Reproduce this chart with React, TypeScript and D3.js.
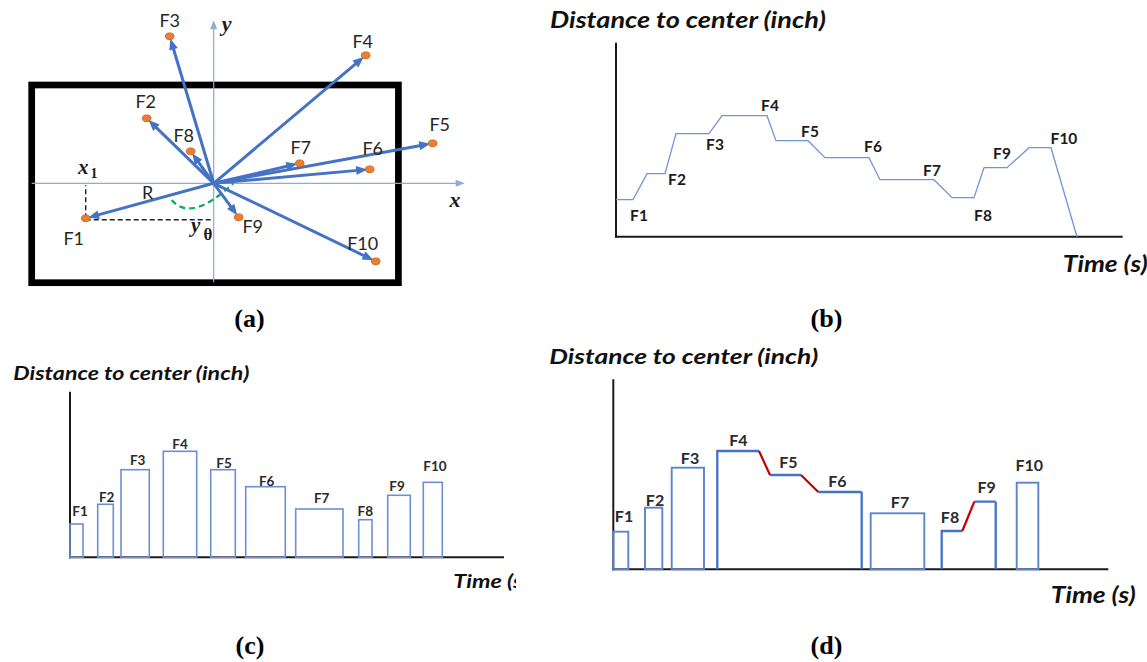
import React from 'react';
import * as d3 from 'd3';

const W = 1147;
const H = 662;

// ---------- Panel (a): feature vectors around the tool center ----------
const features = ['F1', 'F2', 'F3', 'F4', 'F5', 'F6', 'F7', 'F8', 'F9', 'F10'];
const vecX = [-12.8, -6.7, -4.4, 15.2, 21.9, 15.6, 8.6, -2.3, 2.5, 16.2];
const vecY = [-3.5, 6.5, 14.7, 12.8, 4.0, 1.4, 2.0, 3.2, -3.4, -7.8];
const vecLabelX = [-14.0, -6.8, -4.4, 14.9, 22.6, 15.9, 8.7, -3.0, 3.9, 14.9];
const vecLabelY = [-5.5, 8.2, 16.3, 14.2, 5.9, 3.5, 3.6, 4.8, -4.3, -6.0];
const frameX = [-18.2, 18.47];
const frameY = [-9.94, 9.83];
const axisXRange = [-18.2, 25.1];
const axisYRange = [-9.9, 16.3];

// ---------- Panel (b): distance trace over time ----------
const bStart = [0, 3.1, 6.0, 10.6, 16.0, 20.9, 26.4, 33.6, 36.8, 41.3];
const bEnd = [1.7, 4.9, 9.3, 15.1, 19.2, 25.3, 31.8, 35.8, 39.1, 43.5];
const bLevel = [3.7, 6.3, 10.3, 12.1, 9.6, 7.9, 5.7, 3.9, 6.9, 8.9];
const bFinalTime = 46.1;
const bLabelT = [2.3, 6.1, 9.9, 15.4, 19.4, 25.7, 31.6, 36.7, 38.6, 44.8];
const bLabelD = [2.2, 5.8, 9.3, 13.2, 10.6, 9.1, 6.7, 2.2, 8.4, 9.9];

// ---------- Panel (c): one pulse per feature ----------
const cStart = [0, 2.77, 5.1, 9.33, 14.07, 17.57, 22.57, 28.87, 31.77, 35.33];
const cEnd = [1.3, 4.33, 7.93, 12.67, 16.53, 21.53, 27.3, 30.2, 34.03, 37.23];
const cLevel = [3.33, 5.3, 8.76, 10.6, 8.76, 7.06, 4.83, 3.76, 6.2, 7.5];
const cLabelT = [1.0, 3.67, 6.77, 11.0, 15.4, 19.67, 25.17, 29.53, 32.7, 36.5];
const cLabelD = [4.63, 6.06, 9.73, 11.3, 9.4, 7.63, 5.96, 4.6, 7.13, 9.16];

// ---------- Panel (d): pulses with linked transitions ----------
const dStart = [0, 3.17, 5.84, 10.4, 15.67, 20.5, 25.74, 32.84, 36.1, 40.34];
const dEnd = [1.5, 4.9, 9.07, 14.57, 18.77, 24.84, 31.1, 34.9, 38.24, 42.5];
const dLevel = [3.76, 6.16, 10.16, 11.83, 9.43, 7.73, 5.6, 3.83, 6.76, 8.66];
const dLinked = [false, false, false, true, true, false, false, true, false, false];
const dLabelT = [1.07, 4.17, 7.67, 12.5, 17.5, 22.4, 28.67, 33.67, 37.34, 41.6];
const dLabelD = [5.36, 7.0, 11.2, 13.03, 10.76, 8.86, 6.83, 5.33, 8.26, 10.53];

const SANS = "Lato, 'Open Sans', sans-serif";
const SERIF = "'Liberation Serif', 'Times New Roman', serif";
const BLUE = '#4472C4';
const TEXT = '#1c1c1c';

function arrow(x0: number, y0: number, x1: number, y1: number, len: number, wid: number) {
  const dx = x1 - x0;
  const dy = y1 - y0;
  const L = Math.hypot(dx, dy);
  const ux = dx / L;
  const uy = dy / L;
  const bx = x1 - ux * len;
  const by = y1 - uy * len;
  const px = -uy;
  const py = ux;
  const head = `M${x1},${y1}L${bx + (px * wid) / 2},${by + (py * wid) / 2}L${bx - (px * wid) / 2},${by - (py * wid) / 2}Z`;
  return { sx: bx + ux * 1.5, sy: by + uy * 1.5, head };
}

function PanelA() {
  const xA = d3.scaleLinear().domain([-20, 20]).range([13.7, 413.7]);
  const yA = d3.scaleLinear().domain([-20, 20]).range([383.3, -16.7]);
  const ox = xA(0);
  const oy = yA(0);

  const xAx = arrow(xA(axisXRange[0]), oy, xA(axisXRange[1]), oy, 9, 7);
  const yAx = arrow(ox, yA(axisYRange[0]), ox, yA(axisYRange[1]), 9, 7);

  const arc = d3.path();
  arc.moveTo(xA(-4.2), yA(-1.67));
  arc.quadraticCurveTo(xA(-2.28), yA(-3.97), xA(1.96), yA(0));

  return (
    <g>
      <rect
        x={xA(frameX[0])}
        y={yA(frameY[1])}
        width={xA(frameX[1]) - xA(frameX[0])}
        height={yA(frameY[0]) - yA(frameY[1])}
        fill="none"
        stroke="#000"
        strokeWidth={6.7}
      />
      {/* coordinate axes */}
      <line x1={xA(axisXRange[0])} y1={oy} x2={xAx.sx} y2={oy} stroke="#8EA9DB" strokeWidth={1.2} />
      <path d={xAx.head} fill="#8EA9DB" />
      <line x1={ox} y1={yA(axisYRange[0])} x2={ox} y2={yAx.sy} stroke="#8EA9DB" strokeWidth={1.2} />
      <path d={yAx.head} fill="#8EA9DB" />
      <text x={226.7} y={23.3} dominantBaseline="central" textAnchor="middle" fontFamily={SERIF} fontStyle="italic" fontWeight="bold" fontSize={22} fill={TEXT}>y</text>
      <text x={455} y={199.3} dominantBaseline="central" textAnchor="middle" fontFamily={SERIF} fontStyle="italic" fontWeight="bold" fontSize={22} fill={TEXT}>x</text>

      {/* projections of F1 onto the axes */}
      <line x1={xA(vecX[0])} y1={yA(vecY[0])} x2={xA(vecX[0])} y2={yA(-0.2)} stroke="#222" strokeWidth={1.4} strokeDasharray="5,3" />
      <line x1={xA(vecX[0])} y1={yA(vecY[0]) + 1.5} x2={ox} y2={yA(vecY[0]) + 1.5} stroke="#222" strokeWidth={1.4} strokeDasharray="5,3" />
      <path d={arc.toString()} fill="none" stroke="#00B050" strokeWidth={2.2} strokeDasharray="6,4" />

      {/* feature vectors */}
      {features.map((f, i) => {
        const tx = xA(vecX[i]);
        const ty = yA(vecY[i]);
        const L = Math.hypot(tx - ox, ty - oy);
        const ex = tx - ((tx - ox) / L) * 2.5;
        const ey = ty - ((ty - oy) / L) * 2.5;
        const a = arrow(ox, oy, ex, ey, 11, 9);
        return (
          <g key={f}>
            <line x1={ox} y1={oy} x2={a.sx} y2={a.sy} stroke={BLUE} strokeWidth={3} strokeLinecap="round" />
            <path d={a.head} fill={BLUE} />
          </g>
        );
      })}
      {features.map((f, i) => (
        <ellipse key={f} cx={xA(vecX[i])} cy={yA(vecY[i])} rx={4.3} ry={3.4} fill="#ED7D31" stroke="#C55A11" strokeWidth={0.8} />
      ))}
      {features.map((f, i) => (
        <text key={f} x={xA(vecLabelX[i])} y={yA(vecLabelY[i])} textAnchor="middle" dominantBaseline="central" fontFamily={SANS} fontSize={18} fill="#262626">
          {f}
        </text>
      ))}

      <text x={78} y={174} fontFamily={SERIF} fontStyle="italic" fontWeight="bold" fontSize={21} fill={TEXT}>x</text>
      <text x={90.5} y={177.5} fontFamily={SERIF} fontWeight="bold" fontSize={14} fill={TEXT}>1</text>
      <text x={147.7} y={191.7} textAnchor="middle" dominantBaseline="central" fontFamily={SANS} fontSize={18} fill="#262626">R</text>
      <text x={191} y={232} fontFamily={SERIF} fontStyle="italic" fontWeight="bold" fontSize={21} fill={TEXT}>y</text>
      <text x={203.5} y={240} fontFamily={SERIF} fontWeight="bold" fontSize={17} fill={TEXT}>θ</text>
    </g>
  );
}

function Axes({ x0, y0, x1, yTop }: { x0: number; y0: number; x1: number; yTop: number }) {
  return (
    <g stroke="#1a1a1a" strokeWidth={2}>
      <line x1={x0} y1={yTop} x2={x0} y2={y0 + 1} />
      <line x1={x0 - 1} y1={y0} x2={x1} y2={y0} />
    </g>
  );
}

function Title({ x, y, size, len, children }: { x: number; y: number; size: number; len: number; children: string }) {
  return (
    <text x={x} y={y} fontFamily={SANS} fontStyle="italic" fontWeight="bold" fontSize={size} fill="#111" textLength={len} lengthAdjust="spacingAndGlyphs">
      {children}
    </text>
  );
}

function PanelB() {
  const xB = d3.scaleLinear().domain([0, 50.67]).range([616, 1122.7]);
  const yB = d3.scaleLinear().domain([0, 19.4]).range([236.7, 42.7]);
  const pts: [number, number][] = [];
  features.forEach((_, i) => {
    pts.push([bStart[i], bLevel[i]]);
    pts.push([bEnd[i], bLevel[i]]);
  });
  pts.push([bFinalTime, 0]);
  const line = d3.line<[number, number]>().x((d) => xB(d[0])).y((d) => yB(d[1]));
  return (
    <g>
      <Title x={550} y={27.5} size={22} len={276}>Distance to center (inch)</Title>
      <Axes x0={xB(0)} y0={yB(0)} x1={xB(50.67)} yTop={yB(19.4)} />
      <path d={line(pts) || ''} fill="none" stroke="#6F95D8" strokeWidth={1.3} />
      {features.map((f, i) => (
        <text key={f} x={xB(bLabelT[i])} y={yB(bLabelD[i])} textAnchor="middle" dominantBaseline="central" fontFamily={SANS} fontWeight="bold" fontSize={15.5} fill={TEXT}>
          {f}
        </text>
      ))}
      <Title x={1062.7} y={271.7} size={22} len={85}>Time (s)</Title>
    </g>
  );
}

function PanelC() {
  const xC = d3.scaleLinear().domain([0, 43.4]).range([70, 504]);
  const yC = d3.scaleLinear().domain([0, 16.56]).range([557.3, 391.7]);
  return (
    <g>
      <Title x={13.3} y={379.5} size={18.5} len={236}>Distance to center (inch)</Title>
      <Axes x0={xC(0)} y0={yC(0)} x1={xC(43.4)} yTop={yC(16.56)} />
      {features.map((f, i) => (
        <rect key={f} x={xC(cStart[i])} y={yC(cLevel[i])} width={xC(cEnd[i]) - xC(cStart[i])} height={yC(0) - yC(cLevel[i])} fill="none" stroke="#6A8FD8" strokeWidth={1.6} />
      ))}
      {features.map((f, i) => (
        <text key={f} x={xC(cLabelT[i])} y={yC(cLabelD[i])} textAnchor="middle" dominantBaseline="central" fontFamily={SANS} fontWeight="bold" fontSize={13.5} fill="#2a2a2a">
          {f}
        </text>
      ))}
      <g clipPath="url(#clipC)">
        <Title x={453.3} y={588.3} size={19} len={75}>Time (s)</Title>
      </g>
    </g>
  );
}

function PanelD() {
  const xD = d3.scaleLinear().domain([0, 49.5]).range([613.3, 1108.3]);
  const yD = d3.scaleLinear().domain([0, 19]).range([569.3, 379.3]);

  // split features into runs joined by transitions
  const runs: number[][] = [];
  let cur: number[] = [];
  features.forEach((_, i) => {
    cur.push(i);
    if (!dLinked[i]) {
      runs.push(cur);
      cur = [];
    }
  });

  const blueParts: string[] = [];
  const redParts: string[] = [];
  runs.forEach((run) => {
    if (run.length === 1) return;
    const p = d3.path();
    const first = run[0];
    const last = run[run.length - 1];
    p.moveTo(xD(dStart[first]), yD(0));
    p.lineTo(xD(dStart[first]), yD(dLevel[first]));
    run.forEach((k, j) => {
      if (j > 0) p.moveTo(xD(dStart[k]), yD(dLevel[k]));
      p.lineTo(xD(dEnd[k]), yD(dLevel[k]));
      if (j < run.length - 1) {
        const r = d3.path();
        r.moveTo(xD(dEnd[k]), yD(dLevel[k]));
        const n = run[j + 1];
        r.lineTo(xD(dStart[n]), yD(dLevel[n]));
        redParts.push(r.toString());
      }
    });
    p.moveTo(xD(dEnd[last]), yD(dLevel[last]));
    p.lineTo(xD(dEnd[last]), yD(0));
    blueParts.push(p.toString());
  });

  return (
    <g>
      <Title x={549.3} y={364} size={21} len={269}>Distance to center (inch)</Title>
      <Axes x0={xD(0)} y0={yD(0)} x1={xD(49.5)} yTop={yD(19)} />
      {runs
        .filter((r) => r.length === 1)
        .map((r) => {
          const i = r[0];
          return (
            <rect key={i} x={xD(dStart[i])} y={yD(dLevel[i])} width={xD(dEnd[i]) - xD(dStart[i])} height={yD(0) - yD(dLevel[i])} fill="none" stroke="#5B84D0" strokeWidth={1.9} />
          );
        })}
      {blueParts.map((d, i) => (
        <path key={i} d={d} fill="none" stroke={BLUE} strokeWidth={2.3} />
      ))}
      {redParts.map((d, i) => (
        <path key={i} d={d} fill="none" stroke="#C00000" strokeWidth={2.2} />
      ))}
      {features.map((f, i) => (
        <text key={f} x={xD(dLabelT[i])} y={yD(dLabelD[i])} textAnchor="middle" dominantBaseline="central" fontFamily={SANS} fontWeight="bold" fontSize={16} fill="#2a2a2a">
          {f}
        </text>
      ))}
      <Title x={1050.7} y={603.3} size={22} len={85}>Time (s)</Title>
    </g>
  );
}

const panelTags = ['(a)', '(b)', '(c)', '(d)'];
const panelTagX = [249.5, 826.5, 250, 826.5];
const panelTagY = [318, 318, 645.5, 645.5];

export default function App() {
  return (
    <svg width={W} height={H} style={{ position: 'absolute', left: 0, top: 0, background: '#fff' }}>
      <defs>
        <clipPath id="clipC">
          <rect x={0} y={330} width={516} height={332} />
        </clipPath>
      </defs>
      <rect width={W} height={H} fill="#fff" />
      <PanelA />
      <PanelB />
      <PanelC />
      <PanelD />
      {panelTags.map((t, i) => (
        <text key={t} x={panelTagX[i]} y={panelTagY[i]} textAnchor="middle" dominantBaseline="central" fontFamily={SERIF} fontWeight="bold" fontSize={26} fill="#000">
          {t}
        </text>
      ))}
    </svg>
  );
}
